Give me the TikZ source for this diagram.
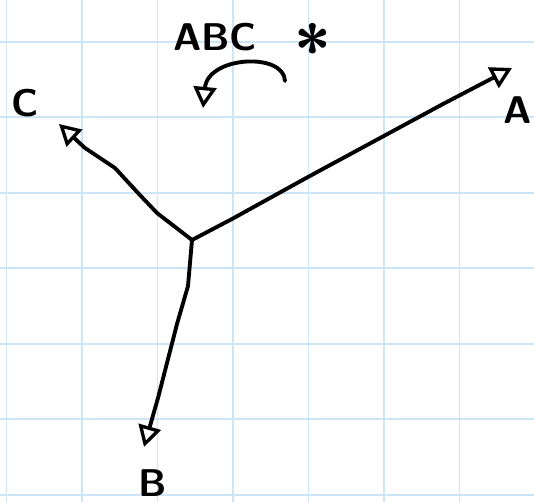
\documentclass[tikz,border=0pt]{standalone}
\usepackage{fontspec}
\usetikzlibrary{arrows.meta}
\definecolor{gridblue}{RGB}{204,229,247}
\tikzset{
  pen/.style={line width=2.2pt, line cap=round, line join=round},
  opentip/.style={-{Triangle[open,length=12pt,width=13pt,line width=1.9pt]}},
  letter/.style={font=\sffamily\bfseries\fontsize{22}{22}\selectfont, inner sep=0pt},
}

\begin{document}
\begin{tikzpicture}[x=0.02cm,y=-0.02cm]
        \useasboundingbox (0,0) rectangle (534,502);
        \fill[white] (0,0) rectangle (534,502);
        % squared paper
        \foreach \gx in {6.5,82,...,534}
                \draw[gridblue, line width=1.1pt] (\gx,0) -- (\gx,502);
        \foreach \gy in {41.7,117.2,...,502}
                \draw[gridblue, line width=1.1pt] (0,\gy) -- (534,\gy);
        % labels
        \node[letter] (title) at (215,37) {ABC};
        \node[letter, font=\sffamily\bfseries\fontsize{38}{38}\selectfont] (star) at (313,48) {*};
        \node[letter] (labA) at (518,110) {A};
        \node[letter] (labB) at (153,483) {B};
        \node[letter] (labC) at (25,103) {C};
        % hub and arrow ends
        \coordinate (hub) at (192,240);
        \coordinate (tipA) at (512,68);
        \coordinate (tipB) at (144,447);
        \coordinate (tipC) at (59,124);
        \coordinate (swirlS) at (285,81);
        \coordinate (swirlE) at (203,108);
        % the three arms
        \draw[pen,opentip] (hub) -- (232,219) -- (308,177) -- (443,104) -- (tipA);
        \draw[pen,opentip] (hub) -- (188,286) -- (177,324) -- (158,398) -- (tipB);
        \draw[pen,opentip] (hub) -- (157,213) -- (138,193) -- (115,168) -- (85,148) -- (tipC);
        % turning arrow
        \draw[pen,opentip] (swirlS) .. controls (284,52) and (208,56) .. (swirlE);
\end{tikzpicture}
\end{document}
